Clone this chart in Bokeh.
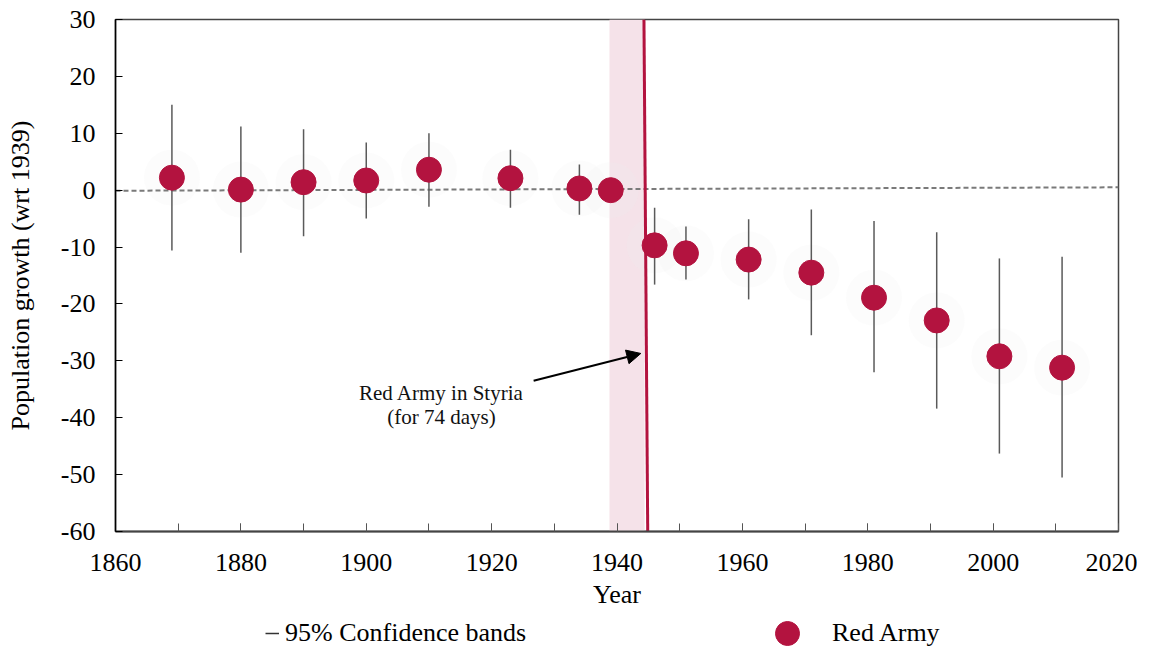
from bokeh.plotting import figure
from bokeh.layouts import column
from bokeh.models import (Range1d, FixedTicker, Arrow, NormalHead, BoxAnnotation,
                          Legend, LegendItem, ColumnDataSource, Label, PrintfTickFormatter)
from bokeh.embed import file_html
from bokeh.resources import INLINE

# ---- data ----
years = [1869, 1880, 1890, 1900, 1910, 1923, 1934, 1939, 1946, 1951, 1961, 1971, 1981, 1991, 2001, 2011]
growth = [2.2, 0.1, 1.4, 1.7, 3.6, 2.1, 0.3, 0.0, -9.7, -11.1, -12.2, -14.5, -18.9, -22.9, -29.2, -31.2]
ci_upper = [15.0, 11.2, 10.7, 8.4, 10.0, 7.1, 4.5, None, -3.1, -6.4, -5.1, -3.4, -5.4, -7.4, -12.0, -11.7]
ci_lower = [-10.6, -11.0, -8.1, -5.0, -2.9, -3.1, -4.3, None, -16.6, -15.7, -19.2, -25.5, -32.0, -38.4, -46.3, -50.5]

trend_years = [1860, 2020]
trend_values = [-0.1, 0.5]

occupation_line_x = [1944.3, 1944.9]
occupation_line_y = [30, -60]
occupation_band = [1938.8, 1944.4]

annotation_lines = ["Red Army in Styria", "(for 74 days)"]
annotation_x = 1912.0
annotation_y = [-35.6, -39.8]
arrow_from = (1926.7, -33.5)
arrow_to = (1943.8, -28.7)

x_ticks = list(range(1860, 2021, 20))
x_minor = list(range(1860, 2021, 10))
y_ticks = list(range(-60, 31, 10))

legend_labels = ["95% Confidence bands", "Red Army"]

RED = "#B3133F"
FONT = "Liberation Serif"
W = 1137

ci_x = [x for x, u in zip(years, ci_upper) if u is not None]
ci_u = [u for u in ci_upper if u is not None]
ci_l = [l for l in ci_lower if l is not None]

src = ColumnDataSource(dict(x=years, y=growth))
ci_src = ColumnDataSource(dict(x=ci_x, lo=ci_l, hi=ci_u))

p = figure(width=W, height=618, output_backend="svg", toolbar_location=None,
           x_range=Range1d(1860, 2020), y_range=Range1d(-60, 30),
           min_border_left=115, min_border_right=19, min_border_top=19, min_border_bottom=87)
p.xgrid.visible = False
p.ygrid.visible = False
p.outline_line_color = "#444444"
p.outline_line_width = 1.5
p.background_fill_color = "white"
p.border_fill_color = "white"

p.add_layout(BoxAnnotation(left=occupation_band[0], right=occupation_band[1],
                           fill_color="#F5E2E9", fill_alpha=1.0, line_color=None, level="underlay"))
p.scatter("x", "y", source=src, size=56, fill_color="#eeeeee", fill_alpha=0.18, line_color=None)

p.line(trend_years, trend_values, line_color="#7a7a7a", line_width=2, line_dash="5 3")
p.segment(x0="x", y0="lo", x1="x", y1="hi", source=ci_src, line_color="#5a5a5a", line_width=1.5)
p.scatter("x", "y", source=src, size=25, fill_color=RED, line_color=RED)
p.line(occupation_line_x, occupation_line_y, line_color=RED, line_width=3)

p.add_layout(Arrow(end=NormalHead(size=14, fill_color="black", line_color="black"),
                   x_start=arrow_from[0], y_start=arrow_from[1],
                   x_end=arrow_to[0], y_end=arrow_to[1], line_width=2, line_color="black"))
for txt, yy in zip(annotation_lines, annotation_y):
    p.add_layout(Label(x=annotation_x, y=yy, text=txt, text_align="center", text_baseline="middle",
                       text_font=FONT, text_font_size="21px", text_color="#111111"))

# axes
p.xaxis.ticker = FixedTicker(ticks=x_ticks, minor_ticks=x_minor)
p.yaxis.ticker = FixedTicker(ticks=y_ticks)
p.xaxis.formatter = PrintfTickFormatter(format="%d")
p.yaxis.formatter = PrintfTickFormatter(format="%d")
p.xaxis.major_label_text_font = FONT
p.yaxis.major_label_text_font = FONT
p.xaxis.major_label_text_font_size = "26px"
p.yaxis.major_label_text_font_size = "26px"
p.xaxis.major_label_text_color = "black"
p.yaxis.major_label_text_color = "black"
p.xaxis.axis_label_text_font = FONT
p.yaxis.axis_label_text_font = FONT
p.xaxis.axis_label_text_font_size = "26px"
p.yaxis.axis_label_text_font_size = "26px"
p.xaxis.axis_label_text_font_style = "normal"
p.yaxis.axis_label_text_font_style = "normal"
p.xaxis.axis_label_text_color = "black"
p.yaxis.axis_label_text_color = "black"
p.xaxis.axis_label = "Year"
p.yaxis.axis_label = "Population growth (wrt 1939)"
p.xaxis.major_tick_out = 0
p.xaxis.minor_tick_out = 0
p.yaxis.major_tick_out = 0
p.yaxis.minor_tick_out = 0
p.xaxis.major_tick_in = 8
p.xaxis.minor_tick_in = 8
p.xaxis.major_tick_line_color = "#555555"
p.xaxis.minor_tick_line_color = "#555555"
p.xaxis.axis_line_color = "#444444"
p.xaxis.axis_line_width = 2
p.xaxis.major_label_standoff = 22
p.xaxis.axis_label_standoff = 6
p.yaxis.major_tick_in = 7
p.yaxis.minor_tick_line_color = None
p.yaxis.major_tick_line_color = "black"
p.yaxis.axis_line_color = "black"
p.yaxis.axis_line_width = 1.5
p.yaxis.major_label_standoff = 20
p.yaxis.axis_label_standoff = 23

# ---- legend strip below the chart ----
lg = figure(width=W, height=30, output_backend="svg", toolbar_location=None,
            x_range=p.x_range, y_range=Range1d(1000, 1001),
            x_axis_type=None, y_axis_type=None,
            min_border=0, min_border_left=0, min_border_right=0, min_border_top=0, min_border_bottom=0)
lg.outline_line_color = None
lg.xgrid.visible = False
lg.ygrid.visible = False
lg_ci = lg.segment(x0="x", y0="lo", x1="x", y1="hi", source=ci_src, line_color="#333333", line_width=1.5)
lg_pts = lg.scatter("x", "y", source=src, size=25, fill_color=RED, line_color=RED)

leg1 = Legend(items=[LegendItem(label=legend_labels[0], renderers=[lg_ci])],
              location=(150, 0), orientation="horizontal", glyph_width=14, glyph_height=30,
              label_standoff=6, padding=0, margin=0, border_line_color=None,
              background_fill_alpha=0, label_text_font=FONT, label_text_font_size="26px",
              label_text_color="black")
leg2 = Legend(items=[LegendItem(label=legend_labels[1], renderers=[lg_pts])],
              location=(642, -15), orientation="horizontal", glyph_width=60, glyph_height=60,
              label_standoff=15, padding=0, margin=0, border_line_color=None,
              background_fill_alpha=0, label_text_font=FONT, label_text_font_size="26px",
              label_text_color="black")
lg.add_layout(leg1)
lg.add_layout(leg2)

layout = column(p, lg, spacing=0)
open("out.html", "w").write(file_html(layout, INLINE))
